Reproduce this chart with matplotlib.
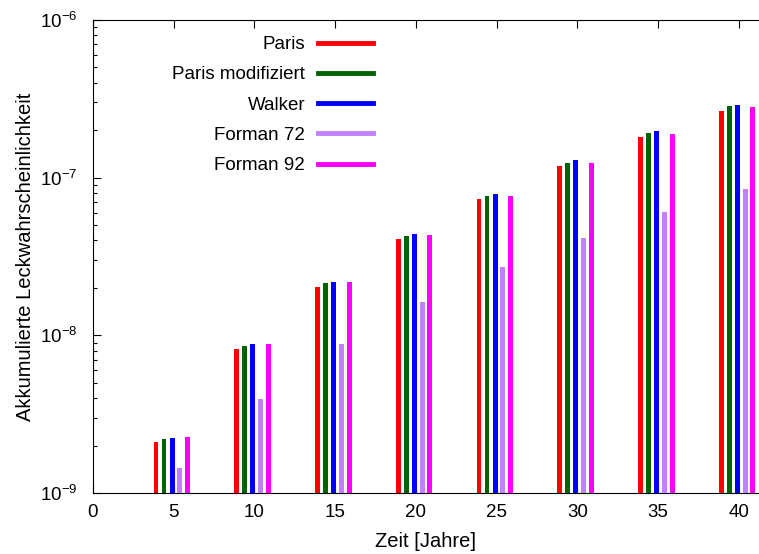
import matplotlib
matplotlib.use("Agg")
from matplotlib import pyplot as plt
from matplotlib.ticker import LogLocator, NullFormatter
import numpy as np

plt.rcParams['font.family'] = ['Liberation Sans', 'DejaVu Sans']

years = [5, 10, 15, 20, 25, 30, 35, 40]

paris = [2.12e-9, 8.17e-9, 2.04e-8, 4.06e-8, 7.30e-8, 1.18e-7, 1.80e-7, 2.65e-7]
paris_mod = [2.19e-9, 8.57e-9, 2.14e-8, 4.28e-8, 7.62e-8, 1.24e-7, 1.92e-7, 2.84e-7]
walker = [2.25e-9, 8.77e-9, 2.18e-8, 4.41e-8, 7.90e-8, 1.29e-7, 1.98e-7, 2.89e-7]
forman72 = [1.45e-9, 3.93e-9, 8.81e-9, 1.62e-8, 2.72e-8, 4.15e-8, 6.04e-8, 8.47e-8]
forman92 = [2.28e-9, 8.77e-9, 2.17e-8, 4.30e-8, 7.65e-8, 1.24e-7, 1.90e-7, 2.81e-7]

series = [
    ("Paris", paris, "#ff0000"),
    ("Paris modifiziert", paris_mod, "#006400"),
    ("Walker", walker, "#0000ff"),
    ("Forman 72", forman72, "#c080ff"),
    ("Forman 92", forman92, "#ff00ff"),
]
offsets = [-1.1, -0.6, -0.1, 0.38, 0.86]
BAR_W = 0.3

fig = plt.figure(figsize=(7.59, 5.54), dpi=100)
ax = fig.add_axes([0.1225, 0.110, 0.8775, 0.854])
ax.set_axisbelow(True)

x = np.array(years, dtype=float)
for (name, vals, col), off in zip(series, offsets):
    ax.bar(x + off, vals, width=BAR_W, color=col, linewidth=0, zorder=3)
    # legend handle
    ax.plot([], [], color=col, lw=3.5, label=name)

ax.set_yscale("log")
ax.set_ylim(1e-9, 1e-6)
ax.set_xlim(0, 41.24)
ax.set_xticks(range(0, 41, 5))
ax.yaxis.set_minor_locator(LogLocator(base=10, subs=np.arange(2, 10)))
ax.yaxis.set_minor_formatter(NullFormatter())
ax.spines["right"].set_visible(False)

ax.tick_params(axis="both", which="both", direction="in", labelsize=13.5,
               top=True, right=False)
ax.tick_params(which="major", length=6, width=0.8)
ax.tick_params(which="minor", length=3, width=0.8)
ax.tick_params(axis="x", pad=8)
ax.tick_params(axis="y", pad=11)

ax.set_xlabel("Zeit [Jahre]", fontsize=14.5, labelpad=8)
ax.set_ylabel("Akkumulierte Leckwahrscheinlichkeit", fontsize=14.5, labelpad=4)

ax.legend(loc="upper right", bbox_to_anchor=(0.42, 0.966), frameon=False,
          markerfirst=False, fontsize=13.5, handlelength=2.9,
          labelspacing=0.7, handletextpad=0.7, borderaxespad=0, borderpad=0)

fig.savefig("out.png", dpi=100)
